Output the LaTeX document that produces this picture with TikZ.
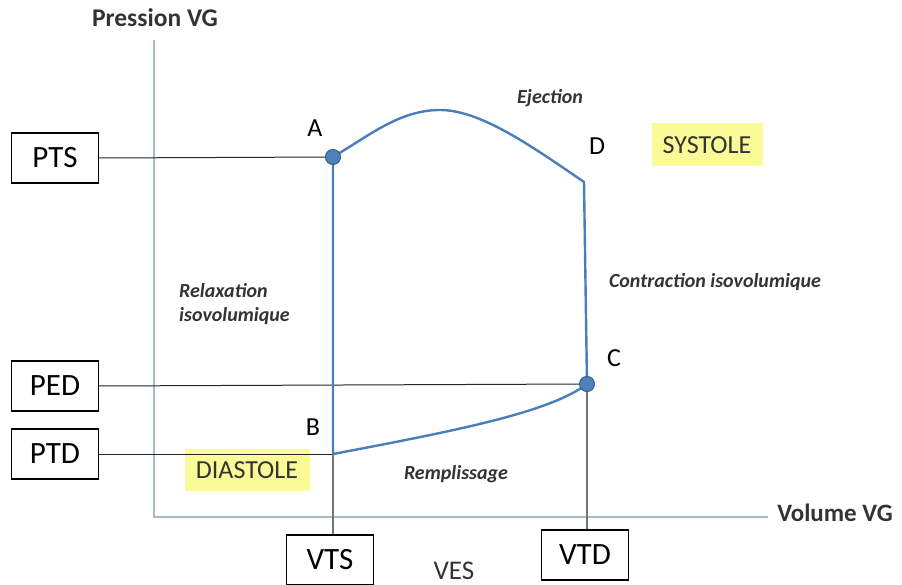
\documentclass[tikz,border=0pt]{standalone}
\usepackage{fontspec}
\setmainfont{Carlito}
\definecolor{curveblue}{HTML}{4A7EBB}
\definecolor{dotfill}{HTML}{4F81BD}
\definecolor{dotline}{HTML}{385D8A}
\definecolor{axiscol}{HTML}{A8BAC8}
\definecolor{hl}{HTML}{FAFA96}
\definecolor{txtgray}{HTML}{333333}
\tikzset{
  valbox/.style={draw=black, line width=1.1pt, minimum width=87pt, minimum height=50pt, inner sep=0pt, font=\fontsize{31}{33}\selectfont, fill=white},
  ptlabel/.style={font=\fontsize{26}{28}\selectfont, inner sep=0pt},
  phase/.style={font=\fontsize{20}{24}\selectfont\bfseries\itshape, text=txtgray, inner sep=0pt},
  hlbox/.style={fill=hl, inner sep=0pt, font=\fontsize{26}{28}\selectfont, text=txtgray},
  axis/.style={draw=axiscol, line width=1.4pt},
  loop/.style={draw=curveblue, line width=2.4pt},
  conn/.style={draw=black!85, line width=1pt},
  gconn/.style={draw=black!55, line width=1.2pt},
  dot/.style={circle, fill=dotfill, draw=dotline, line width=1pt, minimum size=15pt, inner sep=0pt}
}
\begin{document}
\begin{tikzpicture}[x=1pt,y=-1pt]
\useasboundingbox (0,0) rectangle (902,585);
% axes
\coordinate (ytop) at (154,40);
\coordinate (orig) at (154,517);
\coordinate (xend) at (768,517);
\draw[axis] (ytop) -- (orig) -- (xend);
\node[font=\fontsize{25.5}{27}\selectfont\bfseries, text=txtgray] (ylab) at (155,18) {Pression VG};
\node[font=\fontsize{25}{27}\selectfont\bfseries, text=txtgray] (xlab) at (835,513) {Volume VG};
% highlights
\node[hlbox, minimum width=125pt, minimum height=42pt] (dia) at (247,470) {DIASTOLE};
\node[hlbox, minimum width=111pt, minimum height=43pt] (sys) at (707,145) {SYSTOLE};
% key points
\coordinate (A) at (333,157);
\coordinate (B) at (333,454);
\coordinate (C) at (587,384);
\coordinate (D) at (584,182);
\coordinate (top) at (440,110);
% value boxes
\node[valbox] (pts) at (55,158) {PTS};
\node[valbox] (ped) at (55,386) {PED};
\node[valbox] (ptd) at (55,454) {PTD};
\node[valbox] (vts) at (330,560) {VTS};
\node[valbox] (vtd) at (585,555) {VTD};
% connectors
\draw[conn] (pts.east) -- (A);
\draw[conn] (ped.east) -- (C);
\draw[conn] (ptd.east) -- (B);
\draw[gconn] (B) -- (B |- vts.north);
\draw[gconn] (C) -- (C |- vtd.north);
% loop
\draw[loop, line join=round] (B) -- (A)
  .. controls (370,135) and (400,110) .. (top)
  .. controls (480,110) and (530,145) .. (D)
  -- (C)
  .. controls (550,412) and (460,430) .. (B);
\node[dot] (dA) at (A) {};
\node[dot] (dC) at (C) {};
% point labels
\node[ptlabel] (lA) at (315,128) {A};
\node[ptlabel] (lB) at (313,427) {B};
\node[ptlabel] (lC) at (614,358) {C};
\node[ptlabel] (lD) at (597,146) {D};
% phases
\node[phase] (ej) at (550,98) {Ejection};
\node[phase] (ci) at (715,282) {Contraction isovolumique};
\node[phase, align=left, anchor=west] (ri) at (179,304) {Relaxation\\isovolumique};
\node[phase] (re) at (456,474) {Remplissage};
\node[font=\fontsize{27}{29}\selectfont, text=txtgray] (ves) at (454,571) {VES};
\end{tikzpicture}
\end{document}
